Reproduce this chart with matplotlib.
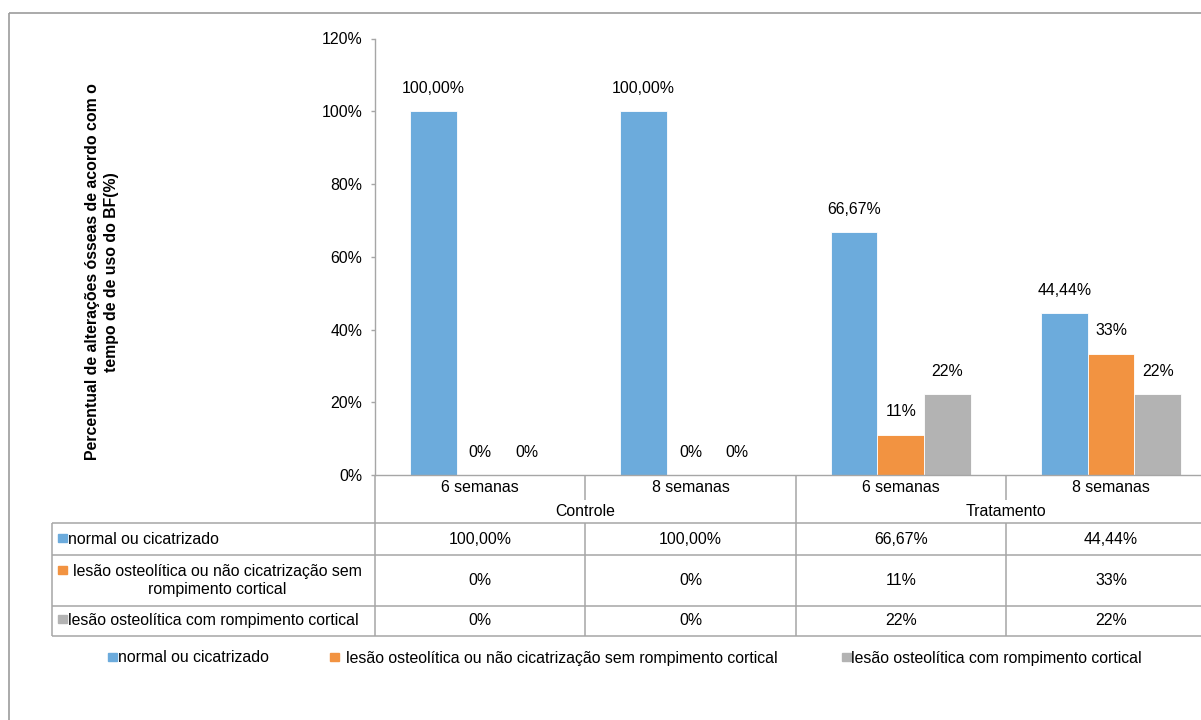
import matplotlib
matplotlib.use("Agg")
import matplotlib.pyplot as plt
from matplotlib.patches import Rectangle

plt.rcParams['font.family'] = ['Liberation Sans', 'DejaVu Sans']

# ---------------- data ----------------
groups = ['Controle', 'Tratamento']
categories = ['6 semanas', '8 semanas', '6 semanas', '8 semanas']
series_names = ['normal ou cicatrizado',
                'lesão osteolítica ou não cicatrização sem rompimento cortical',
                'lesão osteolítica com rompimento cortical']
table_row_labels = ['normal ou cicatrizado',
                    'lesão osteolítica ou não cicatrização sem\nrompimento cortical',
                    'lesão osteolítica com rompimento cortical']
normal = [100.00, 100.00, 66.67, 44.44]
lesao_sem = [0.0, 0.0, 11.11, 33.33]
lesao_com = [0.0, 0.0, 22.22, 22.22]
labels_normal = ['100,00%', '100,00%', '66,67%', '44,44%']
labels_sem = ['0%', '0%', '11%', '33%']
labels_com = ['0%', '0%', '22%', '22%']
yticks = [0, 20, 40, 60, 80, 100, 120]
ytick_labels = ['0%', '20%', '40%', '60%', '80%', '100%', '120%']
ylabel = 'Percentual de alterações ósseas de acordo com o\ntempo de de uso do BF(%)'

series = [normal, lesao_sem, lesao_com]
series_labels = [labels_normal, labels_sem, labels_com]
colors = ['#6CABDC', '#F29341', '#B3B3B3']
grid_col = '#A6A6A6'
FS = 11.4

# ---------------- figure ----------------
W, H = 1201, 720
fig = plt.figure(figsize=(W / 100, H / 100), dpi=100)

x0, x_axis_y, top_y = 375, 475, 38.5
cat_w = 210.3
ax = fig.add_axes([x0 / W, 1 - x_axis_y / H, 4 * cat_w / W, (x_axis_y - top_y) / H])
ax.set_xlim(0, 4)
ax.set_ylim(0, 120)
bw = 2 / 9
for j, (vals, labs, c) in enumerate(zip(series, series_labels, colors)):
    xs = [i + 0.5 + (j - 1) * bw for i in range(len(vals))]
    ax.bar(xs, vals, width=bw, color=c, edgecolor='white', linewidth=0.6, zorder=2)
    for x, v, t in zip(xs, vals, labs):
        ax.annotate(t, (x, v), xytext=(0, 16.5), textcoords='offset points',
                    ha='center', va='center', fontsize=FS, color='black')

ax.set_yticks(yticks)
ax.set_yticklabels(ytick_labels, fontsize=FS)
ax.set_xticks([])
for s in ['top', 'right']:
    ax.spines[s].set_visible(False)
for s in ['left', 'bottom']:
    ax.spines[s].set_color(grid_col)
    ax.spines[s].set_linewidth(1.0)
ax.tick_params(axis='y', direction='out', length=3, width=1.0, color=grid_col, pad=6)
ax.patch.set_alpha(0)

# ---------------- overlay (pixel coordinates) ----------------
ov = fig.add_axes([0, 0, 1, 1], zorder=-1)
ov.set_xlim(0, W)
ov.set_ylim(H, 0)
ov.axis('off')


def line(xa, ya, xb, yb, col=grid_col, lw=1.1):
    ov.plot([xa, xb], [ya, yb], color=col, lw=lw, solid_capstyle='butt', clip_on=False)


# outer chart frame
line(9, 13, W + 5, 13, col='#9C9C9C', lw=1.2)
line(9, 13, 9, H + 5, col='#9C9C9C', lw=1.2)

bounds = [x0 + i * cat_w for i in range(5)]
row_cat, row_grp, r1, r2, r3, r4 = 475, 500, 523.3, 555.3, 605.7, 635.7
tleft = 51.7

# horizontal table lines
for y in [r1, r2, r3, r4]:
    line(tleft, y, W + 20, y)
line(tleft, r1, tleft, r4)
# vertical lines
line(bounds[0], row_cat, bounds[0], r4)
line(bounds[2], row_cat, bounds[2], r4)
for b in [bounds[1], bounds[3]]:
    line(b, row_cat, b, row_grp)
    line(b, r1, b, r4)
line(bounds[4], row_cat, bounds[4], r4)

# category and group labels
for i, c in enumerate(categories):
    ov.text((bounds[i] + bounds[i + 1]) / 2, 488, c, ha='center', va='center', fontsize=FS)
for g, gname in enumerate(groups):
    ov.text(bounds[2 * g + 1], 512, gname, ha='center', va='center', fontsize=FS)

# table rows
row_centers = [(r1 + r2) / 2, (r2 + r3) / 2, (r3 + r4) / 2]
for k, (lab, labs, c) in enumerate(zip(table_row_labels, series_labels, colors)):
    yc = row_centers[k]
    if '\n' in lab:
        ov.add_patch(Rectangle((58, 565.5), 8.5, 8, color=c, clip_on=False))
        ov.text(217, yc, lab, ha='center', va='center', fontsize=FS,
                multialignment='center', linespacing=1.3)
    else:
        ov.add_patch(Rectangle((58, yc - 5.5), 8.5, 8, color=c, clip_on=False))
        ov.text(68.5, yc, lab, ha='left', va='center', fontsize=FS)
    for i, t in enumerate(labs):
        ov.text((bounds[i] + bounds[i + 1]) / 2, yc, t, ha='center', va='center', fontsize=FS)

# legend at bottom
leg_x = [108, 330, 842]
leg_tx = [118, 346, 851]
for sx, tx, name, c in zip(leg_x, leg_tx, series_names, colors):
    ov.add_patch(Rectangle((sx, 653), 8.5, 8, color=c, clip_on=False))
    ov.text(tx, 658, name, ha='left', va='center', fontsize=FS)

# y label
fig.text(102 / W, 1 - 272 / H, ylabel, rotation=90, ha='center', va='center',
         fontsize=FS, fontweight='bold', multialignment='center', linespacing=1.3)

fig.savefig('out.png', dpi=100)
